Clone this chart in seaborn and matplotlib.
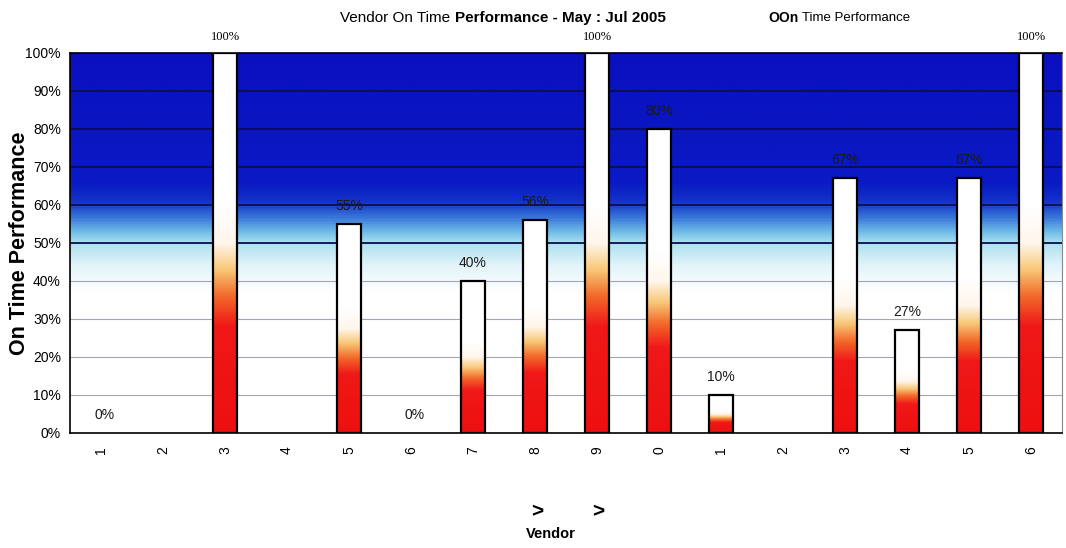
import numpy as np
import pandas as pd
import seaborn as sns
import matplotlib.pyplot as plt
from matplotlib.colors import LinearSegmentedColormap

# chart data
slots = [f"v{i:02d}" for i in range(16)]
tick_labels = ["1", "2", "3", "4", "5", "6", "7", "8", "9", "0", "1", "2", "3", "4", "5", "6"]
on_time_pct = [0, 0, 100, 0, 55, 0, 40, 56, 100, 80, 10, 0, 67, 27, 67, 100]
value_labels = ["0%", "", "100%", "", "55%", "0%", "40%", "56%", "100%", "80%",
                "10%", "", "67%", "27%", "67%", "100%"]
y_ticks = [0, 10, 20, 30, 40, 50, 60, 70, 80, 90, 100]

sns.set_style("white")
plt.rcParams['font.family'] = ['Liberation Sans', 'DejaVu Sans']
plt.rcParams['text.color'] = 'black'
plt.rcParams['xtick.color'] = 'black'
plt.rcParams['ytick.color'] = 'black'
plt.rcParams['axes.labelcolor'] = 'black'

df = pd.DataFrame({"slot": slots, "pct": on_time_pct})

fig = plt.figure(figsize=(10.66, 5.48), dpi=100)
ax = fig.add_axes([70 / 1066, 115 / 548, 992 / 1066, 380 / 548])

sns.barplot(data=df, x="slot", y="pct", order=slots, width=0.39,
            facecolor="none", edgecolor="black", linewidth=1.6, zorder=3, ax=ax)

ax.set_xlim(-0.5, len(slots) - 0.5)
ax.set_ylim(0, 100)

# sky-like background: white at the bottom, deep blue at the top
bg_cmap = LinearSegmentedColormap.from_list("bg", [
    (0.00, "#ffffff"), (0.37, "#ffffff"), (0.44, "#e2f4fa"), (0.50, "#ace0f0"),
    (0.53, "#70bce8"), (0.57, "#3672d8"), (0.61, "#1432c8"), (0.66, "#0a1ac4"),
    (1.00, "#0a10c0")])
grad = np.linspace(0, 1, 400).reshape(-1, 1)
ax.imshow(grad, cmap=bg_cmap, extent=[-0.5, len(slots) - 0.5, 0, 100],
          origin="lower", aspect="auto", zorder=0)

for t in y_ticks[1:]:
    if t >= 50:
        ax.axhline(t, color="#0c0c50", linewidth=1.3, zorder=1)
    else:
        ax.axhline(t, color="#a4a4b4", linewidth=0.8, zorder=1)

# red-to-white fill inside each bar
bar_cmap = LinearSegmentedColormap.from_list("bar", [
    (0.00, "#ee1010"), (0.28, "#f01818"), (0.36, "#f26a2a"), (0.43, "#f8c878"),
    (0.50, "#fff6ec"), (0.60, "#ffffff"), (1.00, "#ffffff")])
for patch, val, lab in zip(ax.patches, on_time_pct, value_labels):
    x0 = patch.get_x()
    w = patch.get_width()
    if val > 0:
        im = ax.imshow(grad, cmap=bar_cmap, extent=[x0, x0 + w, 0, val],
                       origin="lower", aspect="auto", zorder=2.5)
        im.set_clip_path(patch)
    else:
        patch.set_visible(False)
    if lab:
        if lab == "100%":
            ax.annotate(lab, (x0 + w / 2, val), xytext=(0, 11.5), textcoords="offset points",
                        ha="center", va="center", fontsize=9, family="Liberation Serif",
                        annotation_clip=False)
        else:
            ax.annotate(lab, (x0 + w / 2 + (0.06 if val == 0 else 0), val), xytext=(0, 13),
                        textcoords="offset points", ha="center", va="center",
                        fontsize=10, color="#1a1a1a")

ax.set_xlim(-0.5, len(slots) - 0.5)
ax.set_ylim(0, 100)
ax.set_yticks(y_ticks)
ax.set_yticklabels([f"{t}%" for t in y_ticks], fontsize=10)
ax.set_xticks(range(len(slots)))
ax.set_xticklabels(tick_labels, rotation=90, fontsize=10)
ax.tick_params(axis="x", pad=6)
ax.tick_params(axis="y", pad=3)
ax.set_xlabel("")
ax.set_ylabel("On Time Performance", fontsize=15.5, fontweight="bold")
ax.yaxis.set_label_coords(-0.040, 0.5)

for side in ["left", "bottom", "top"]:
    ax.spines[side].set_color("black")
    ax.spines[side].set_linewidth(1.2)
ax.spines["right"].set_color("#888888")
ax.spines["right"].set_linewidth(0.8)

# title and legend-like caption
fig.text(450 / 1066, 1 - 18 / 548, "Vendor On Time", ha="right", va="center", fontsize=11)
fig.text(455 / 1066, 1 - 18 / 548, "Performance - May : Jul 2005", ha="left", va="center",
         fontsize=11, fontweight="bold")
fig.text(768 / 1066, 1 - 18 / 548, "OOn", ha="left", va="center", fontsize=10, fontweight="bold")
fig.text(802 / 1066, 1 - 18 / 548, "Time Performance", ha="left", va="center", fontsize=9.5)

# x-axis caption
fig.text(537 / 1066, 1 - 512 / 548, ">", ha="center", va="center", fontsize=15, fontweight="bold")
fig.text(598 / 1066, 1 - 512 / 548, ">", ha="center", va="center", fontsize=15, fontweight="bold")
fig.text(551 / 1066, 1 - 534 / 548, "Vendor", ha="center", va="center", fontsize=10.5,
         fontweight="bold")

fig.savefig("out.png", dpi=100)
